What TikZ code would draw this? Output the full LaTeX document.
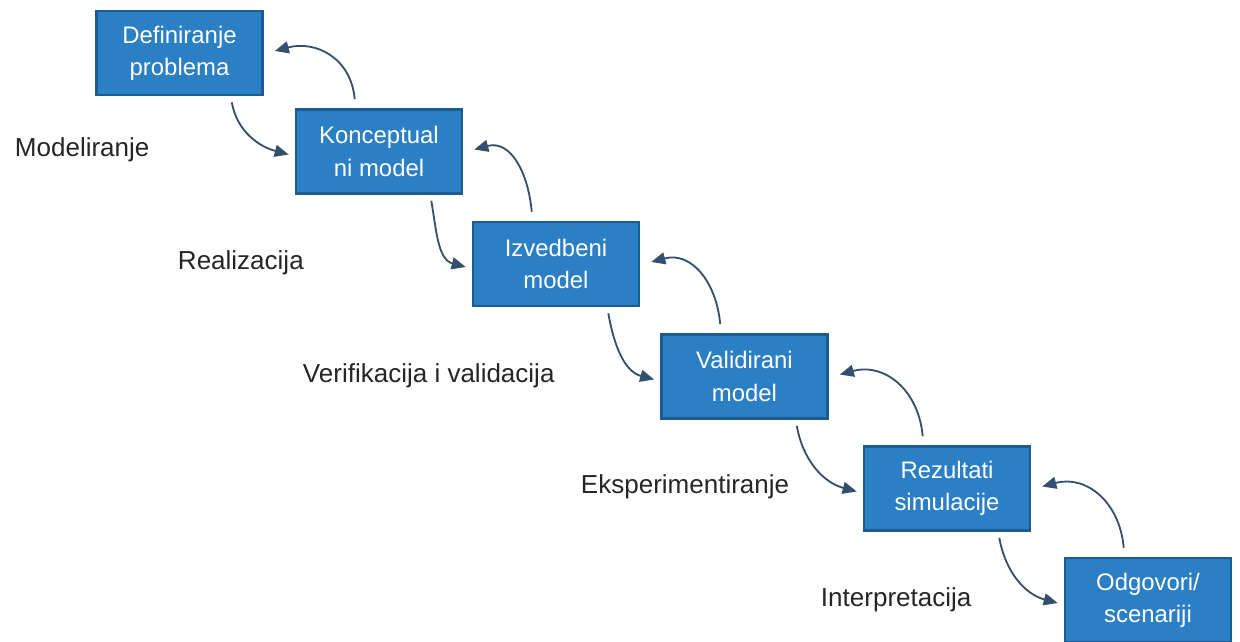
\documentclass[tikz,border=0pt]{standalone}
\usepackage{fontspec}
\setmainfont{Liberation Sans}
\usetikzlibrary{arrows.meta}
\definecolor{boxblue}{HTML}{2B7FC4}
\definecolor{boxline}{HTML}{1D5C92}
\definecolor{flowblue}{HTML}{34506F}

\begin{document}
\begin{tikzpicture}[x=0.025cm, y=0.025cm,
      stage/.style = {shape=rectangle, draw=boxline, line width=1.8pt,
        fill=boxblue, text=white, align=center,
        minimum width=4.15cm, minimum height=2.1cm,
        font=\fontsize{17}{23}\selectfont},
      phase/.style = {anchor=west, text=black!85,
        font=\fontsize{18.5}{22}\selectfont},
      flow/.style = {draw=flowblue, line width=1.3pt,
        -{Triangle[length=10pt,width=8.5pt]}}]
    \useasboundingbox (0,0) rectangle (1240,-641);
    \fill[white] (0,0) rectangle (1240,-641);

    \node[stage] (p1) at (179.5,-53)  {Definiranje\\problema};
    \node[stage] (p2) at (379,-151.5) {Konceptual\\ni model};
    \node[stage] (p3) at (556,-264)   {Izvedbeni\\model};
    \node[stage] (p4) at (744.5,-376.5) {Validirani\\model};
    \node[stage] (p5) at (947,-488.5) {Rezultati\\simulacije};
    \node[stage] (p6) at (1148,-600)  {Odgovori/\\scenariji};

    \node[phase] (l1) at (10,-150)  {Modeliranje};
    \node[phase] (l2) at (173,-263) {Realizacija};
    \node[phase] (l3) at (298,-376) {Verifikacija i validacija};
    \node[phase] (l4) at (576,-487) {Eksperimentiranje};
    \node[phase] (l5) at (816,-600) {Interpretacija};

    % forward and back arrows between the stages
    \foreach \a/\b in {p1/p2, p2/p3, p3/p4, p4/p5, p5/p6} {
      \draw[flow] ([shift={(-32,-6)}]\a.south east)
        to[out=-80, in=165] ([shift={(-6,-3)}]\b.west);
      \draw[flow] ([shift={(60,9)}]\b.north west)
        to[out=95, in=15, looseness=1.15] ([shift={(11,2)}]\a.east);
    }
  \end{tikzpicture}
\end{document}
